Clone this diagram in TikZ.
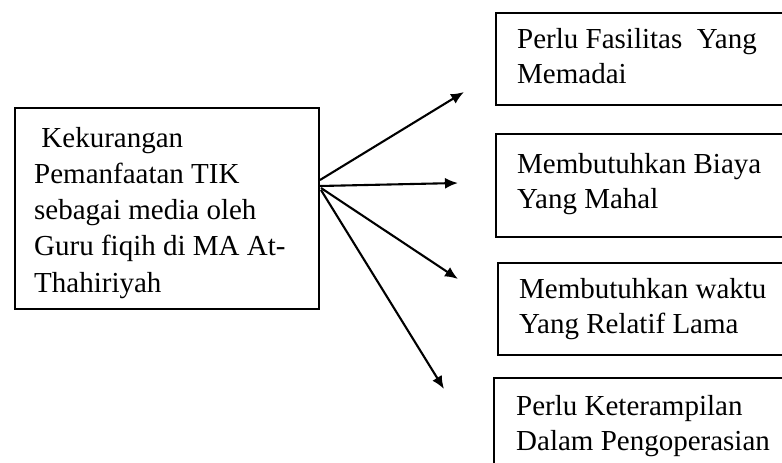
\documentclass[tikz,border=0pt]{standalone}
\usepackage{fontspec}
\setmainfont{Liberation Serif}
\usetikzlibrary{arrows.meta}
\begin{document}
\begin{tikzpicture}[x=1pt,y=-1pt,
  box/.style={draw,line width=2.1pt,rectangle,inner sep=0pt,anchor=north west},
  txt/.style={inner sep=0pt,anchor=base west,font=\fontsize{29}{35.5}\selectfont},
  arr/.style={line width=2.1pt,-{Latex[length=13pt,width=11pt]}}]
\useasboundingbox (0,0) rectangle (782,463);
\clip (0,0) rectangle (782,463);
% boxes
\node[box,minimum width=304pt,minimum height=201pt] (src) at (14,107) {};
\node[box,minimum width=320pt,minimum height=92pt] (b1) at (495,12) {};
\node[box,minimum width=320pt,minimum height=103pt] (b2) at (495,133) {};
\node[box,minimum width=320pt,minimum height=92pt] (b3) at (497,262) {};
\node[box,minimum width=320pt,minimum height=110pt] (b4) at (493,377) {};
% texts
\node[txt] (tsrc) at (34,147) {\parbox[t]{290pt}{\fontsize{29}{36.3}\selectfont\raggedright
 \ Kekurangan\\Pemanfaatan TIK\\sebagai media oleh\\Guru fiqih di MA At-\\Thahiriyah}};
\node[txt] (t1) at (517,48) {\parbox[t]{300pt}{\fontsize{29}{35.5}\selectfont\raggedright Perlu Fasilitas\ \ Yang\\Memadai}};
\node[txt] (t2) at (517,173) {\parbox[t]{300pt}{\fontsize{29}{35}\selectfont\raggedright Membutuhkan\ Biaya\\Yang Mahal}};
\node[txt] (t3) at (519,298) {\parbox[t]{300pt}{\fontsize{29}{35}\selectfont\raggedright Membutuhkan\ waktu\\Yang Relatif\ Lama}};
\node[txt] (t4) at (516,415) {\parbox[t]{300pt}{\fontsize{29}{35}\selectfont\raggedright Perlu Keterampilan\\Dalam Pengoperasian}};
% connector coordinates
\coordinate (s1) at (320,180);
\coordinate (s2) at (320,186);
\coordinate (s3) at (321,188);
\coordinate (s4) at (321,190);
\coordinate (e1) at (464,92);
\coordinate (e2) at (458,183);
\coordinate (e3) at (458,279);
\coordinate (e4) at (444,389);
\draw[arr] (s1) -- (e1);
\draw[arr] (s2) -- (e2);
\draw[arr] (s3) -- (e3);
\draw[arr] (s4) -- (e4);
\end{tikzpicture}
\end{document}
